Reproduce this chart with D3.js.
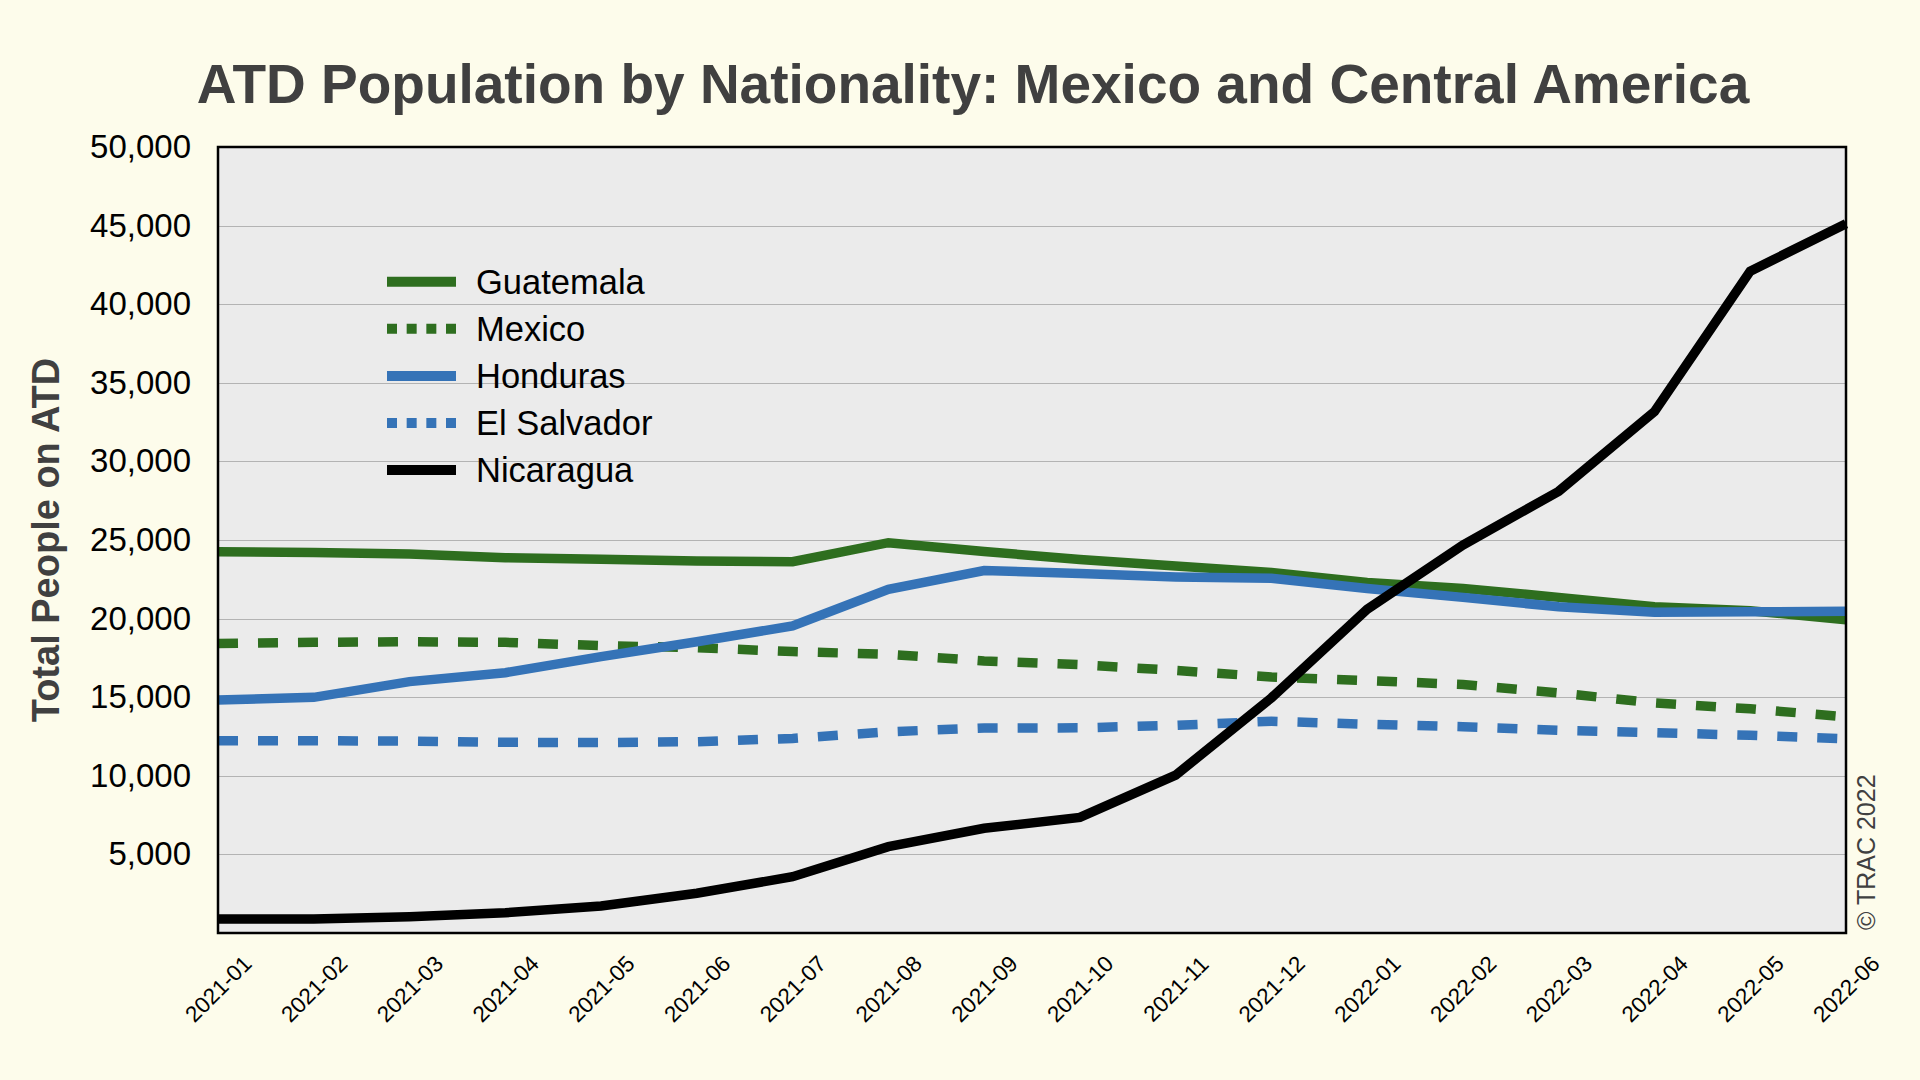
<!DOCTYPE html>
<html>
<head>
<meta charset="utf-8">
<script src="https://cdn.jsdelivr.net/npm/d3@7"></script>
<style>
  html, body { margin: 0; padding: 0; background: #FDFCEB; }
  svg { display: block; font-family: "Liberation Sans", Arial, Helvetica, sans-serif; }
</style>
</head>
<body>
<svg id="chart" width="1920" height="1080"></svg>
<script>
const titleText = "ATD Population by Nationality: Mexico and Central America";
const yAxisTitle = "Total People on ATD";
const creditText = "© TRAC 2022";

const months = ["2021-01","2021-02","2021-03","2021-04","2021-05","2021-06","2021-07","2021-08","2021-09",
                "2021-10","2021-11","2021-12","2022-01","2022-02","2022-03","2022-04","2022-05","2022-06"];
const yTicks = [5000,10000,15000,20000,25000,30000,35000,40000,45000,50000];

const guatemala  = [24250,24210,24110,23870,23770,23660,23620,24830,24270,23760,23350,22940,22300,21920,21350,20750,20500,19930];
const mexico     = [18420,18490,18530,18490,18280,18150,17900,17730,17310,17070,16700,16290,16060,15810,15270,14640,14260,13750];
const honduras   = [14820,14990,15990,16560,17580,18530,19530,21860,23060,22870,22650,22560,21920,21350,20750,20400,20430,20460];
const elSalvador = [12230,12230,12210,12130,12110,12170,12380,12800,13040,13050,13210,13470,13280,13120,12890,12740,12580,12350];
const nicaragua  = [890,890,1040,1290,1720,2530,3580,5490,6660,7350,10040,14960,20590,24680,28100,33170,42100,45120];

const seriesNames  = ["Guatemala","Mexico","Honduras","El Salvador","Nicaragua"];
const seriesValues = [guatemala, mexico, honduras, elSalvador, nicaragua];
const seriesColors = ["#2E6E1F","#2E6E1F","#3573B7","#3573B7","#000000"];
const seriesDotted = [false, true, false, true, false];

const svg = d3.select("#chart");
const plot = {left: 218, right: 1846, top: 147, bottom: 933};

const x = d3.scalePoint().domain(months).range([plot.left, plot.right]);
const y = d3.scaleLinear().domain([0, 50000]).range([plot.bottom, plot.top]);

// title
svg.append("text")
  .attr("x", 973).attr("y", 103)
  .attr("text-anchor", "middle")
  .attr("font-size", 55).attr("font-weight", "bold")
  .attr("fill", "#404040")
  .text(titleText);

// plot background
svg.append("rect")
  .attr("x", plot.left).attr("y", plot.top)
  .attr("width", plot.right - plot.left).attr("height", plot.bottom - plot.top)
  .attr("fill", "#EBEBEB");

// gridlines
svg.append("g")
  .selectAll("line").data(yTicks.slice(0, -1)).join("line")
  .attr("x1", plot.left).attr("x2", plot.right)
  .attr("y1", d => Math.round(y(d)) + 0.5).attr("y2", d => Math.round(y(d)) + 0.5)
  .attr("stroke", "#B3B3B3").attr("stroke-width", 1);

// y axis
const yAxis = d3.axisLeft(y).tickValues(yTicks).tickSize(0).tickPadding(0)
  .tickFormat(d3.format(","));
const yg = svg.append("g").attr("transform", `translate(${plot.left - 27},0)`).call(yAxis);
yg.select(".domain").remove();
yg.selectAll("text").attr("font-size", 33).attr("fill", "#000")
  .attr("font-family", '"Liberation Sans", Arial, Helvetica, sans-serif');

// x axis labels
const xAxis = d3.axisBottom(x).tickSize(0).tickPadding(0);
const xg = svg.append("g").attr("transform", `translate(0,${plot.bottom})`).call(xAxis);
xg.select(".domain").remove();
xg.selectAll("text")
  .attr("font-size", 22.5).attr("fill", "#000")
  .attr("font-family", '"Liberation Sans", Arial, Helvetica, sans-serif')
  .attr("text-anchor", "middle")
  .attr("dy", null).attr("y", null)
  .attr("dominant-baseline", "central")
  .attr("transform", "translate(0,56) rotate(-45)");

// y axis title
svg.append("text")
  .attr("transform", `translate(59,540) rotate(-90)`)
  .attr("text-anchor", "middle")
  .attr("font-size", 38).attr("font-weight", "bold")
  .attr("fill", "#404040")
  .text(yAxisTitle);

// lines
const line = d3.line().x((d, i) => x(months[i])).y(d => y(d));
svg.append("g").selectAll("path").data(seriesValues).join("path")
  .attr("d", d => line(d))
  .attr("fill", "none")
  .attr("stroke", (d, i) => seriesColors[i])
  .attr("stroke-width", 9.5)
  .attr("stroke-dasharray", (d, i) => seriesDotted[i] ? "20,20" : null)
  .attr("stroke-linejoin", "miter");

// frame
svg.append("rect")
  .attr("x", plot.left).attr("y", plot.top)
  .attr("width", plot.right - plot.left).attr("height", plot.bottom - plot.top)
  .attr("fill", "none").attr("stroke", "#000").attr("stroke-width", 2.5);

// legend
const legend = svg.append("g");
const rowY = i => 281.7 + i * 47.1;
legend.selectAll("line").data(seriesNames).join("line")
  .attr("x1", 387).attr("x2", 456)
  .attr("y1", (d, i) => rowY(i)).attr("y2", (d, i) => rowY(i))
  .attr("stroke", (d, i) => seriesColors[i])
  .attr("stroke-width", 10)
  .attr("stroke-dasharray", (d, i) => seriesDotted[i] ? "10,9.67" : null);
legend.selectAll("text").data(seriesNames).join("text")
  .attr("x", 476).attr("y", (d, i) => rowY(i) + 12.3)
  .attr("font-size", 34.5).attr("fill", "#000")
  .text(d => d);

// credit
svg.append("text")
  .attr("transform", "translate(1875,930) rotate(-90)")
  .attr("text-anchor", "start")
  .attr("font-size", 25).attr("fill", "#404040")
  .text(creditText);
</script>
</body>
</html>
